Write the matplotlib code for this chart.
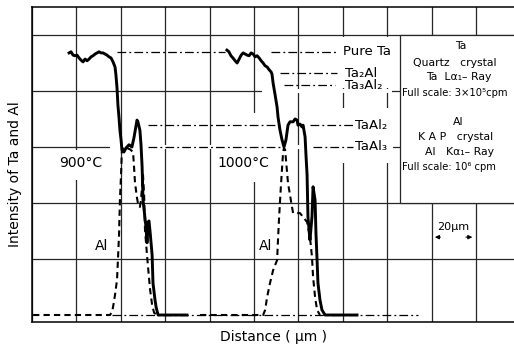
import matplotlib
matplotlib.use("Agg")
import matplotlib.pyplot as plt
from matplotlib.patches import Rectangle

# line scans: x in um from the left frame, y in chart divisions
ta900_x = [16.7, 17.6, 18.5, 19.4, 20.3, 21.2, 22.1, 23.0, 23.9, 24.8, 25.7, 26.6, 27.5, 28.4,
           29.3, 30.2, 31.1, 32.0, 32.9, 33.8, 34.7, 35.6, 36.5, 36.9, 37.4, 37.8, 38.3, 38.7,
           39.2, 39.6, 40.1, 40.5, 41.4, 42.3, 43.7, 45.0, 45.9, 46.9, 47.3, 47.7, 48.6, 49.1,
           49.6, 50.0, 50.9, 51.4, 51.8, 52.3, 52.7, 53.2, 54.1, 54.5, 55.4, 55.9, 56.8, 69.8]
ta900_y = [4.68, 4.70, 4.64, 4.63, 4.64, 4.59, 4.55, 4.52, 4.57, 4.54, 4.57, 4.61, 4.63, 4.66,
           4.68, 4.70, 4.68, 4.68, 4.66, 4.64, 4.61, 4.59, 4.52, 4.48, 4.43, 4.29, 4.05, 3.75,
           3.52, 3.30, 3.13, 2.95, 2.91, 2.98, 3.04, 3.00, 3.16, 3.39, 3.48, 3.45, 3.30, 3.04,
           2.64, 2.05, 1.73, 1.55, 1.29, 1.66, 1.68, 1.48, 1.07, 0.57, 0.27, 0.14, 0.0, 0.0]

al900_x = [0.5, 35.1, 36.0, 36.5, 37.4, 38.3, 38.7, 39.2, 39.6, 40.1, 40.5, 41.4, 42.8, 44.1,
           45.5, 45.9, 46.4, 47.3, 47.7, 48.6, 49.1, 49.6, 50.0, 50.5, 50.9, 51.8, 52.3, 53.2,
           54.1, 55.0, 56.3]
al900_y = [0.0, 0.0, 0.05, 0.14, 0.36, 0.63, 0.98, 1.43, 2.05, 2.50, 2.95, 3.00, 2.98, 2.96,
           2.91, 2.68, 2.36, 2.09, 2.00, 1.93, 2.05, 2.32, 2.50, 2.14, 1.52, 1.07, 0.84, 0.45,
           0.18, 0.04, 0.0]

ta1000_x = [87.8, 88.7, 89.6, 90.5, 91.5, 92.4, 93.3, 94.2, 95.1, 96.0, 96.9, 97.8, 98.7, 99.6,
            100.5, 101.4, 102.3, 103.2, 104.1, 105.0, 105.9, 106.8, 107.7, 108.1, 108.6, 109.5,
            110.4, 110.8, 111.7, 112.6, 113.5, 114.4, 115.3, 116.2, 117.6, 118.5, 119.4, 119.8,
            120.7, 121.6, 122.1, 123.0, 123.4, 123.9, 124.3, 124.8, 125.2, 126.1, 126.6, 127.5,
            127.9, 128.4, 128.8, 129.7, 130.6, 132.0, 146.4]
ta1000_y = [4.73, 4.70, 4.63, 4.59, 4.54, 4.50, 4.57, 4.64, 4.68, 4.66, 4.64, 4.63, 4.68, 4.66,
            4.61, 4.63, 4.59, 4.54, 4.50, 4.45, 4.43, 4.38, 4.34, 4.30, 4.14, 3.93,
            3.71, 3.54, 3.30, 3.13, 3.00, 3.13, 3.39, 3.45, 3.45, 3.50, 3.48, 3.39,
            3.41, 3.36, 3.39, 3.18, 2.86, 2.50, 1.75, 1.52, 1.34, 1.75, 2.29, 2.05,
            1.46, 0.98, 0.57, 0.27, 0.09, 0.0, 0.0]

al1000_x = [75.7, 104.1, 105.0, 105.9, 107.2, 108.6, 110.4, 110.8, 111.3, 112.2, 113.1, 113.5,
            114.0, 115.3, 117.1, 117.6, 120.7, 122.1, 123.9, 124.3, 125.2, 126.1, 126.6, 127.5,
            128.4, 129.7]
al1000_y = [0.0, 0.0, 0.09, 0.32, 0.57, 0.80, 0.98, 1.34, 1.75, 2.36, 2.91, 2.98,
            2.95, 2.36, 1.93, 1.82, 1.82, 1.75, 1.66, 1.57, 1.39, 1.04, 0.68, 0.32,
            0.09, 0.0]

# phase reference levels and where their dash-dot lines run
level_names = ["Pure Ta", "Ta₂Al", "Ta₃Al₂", "TaAl₂", "TaAl₃"]
level_y = [4.70, 4.32, 4.10, 3.39, 3.00]
level_spans = [[(38.3, 87.0), (107.7, 137.9)],
               [(111.7, 137.4)],
               [(113.5, 136.5)],
               [(52.3, 111.7), (125.2, 144.6)],
               [(52.3, 112.6), (126.6, 144.6)]]
baseline_span = (36.0, 173.9)

fig = plt.figure(figsize=(5.14, 3.46), dpi=100)
ax = fig.add_axes([32 / 514, 24 / 346, 482 / 514, 315 / 346])
ax.set_xlim(0, 217.1)
ax.set_ylim(-0.125, 5.5)
ax.set_xticks(range(0, 220, 20))
ax.set_yticks([1, 2, 3, 4, 5])
ax.tick_params(length=0, labelbottom=False, labelleft=False)
ax.set_axisbelow(True)
ax.grid(True, color="#262626", lw=0.9)
for s in ("left", "top", "bottom"):
    ax.spines[s].set_linewidth(1.1)
ax.spines["right"].set_visible(False)

# erased bits of the grid paper (label areas) and the legend box
for (x0, x1, y0, y1) in [(136.5, 161.7, 4.05, 4.96), (136.5, 161.7, 2.71, 3.70),
                         (103.6, 162.2, 3.96, 4.04), (35.1, 162.6, 2.96, 3.04),
                         (10.4, 34.2, 2.41, 2.95), (82.4, 108.1, 2.38, 2.95),
                         (97.8, 101.4, 2.95, 3.61)]:
    ax.add_patch(Rectangle((x0, y0), x1 - x0, y1 - y0, fc="white", ec="none", zorder=1))
ax.add_patch(Rectangle((165.8, 2.0), 60, 3.0, fc="white", ec="#262626", lw=0.9, zorder=1))

dashdot = (0, (7, 2.5, 1.5, 2.5))
ax.plot(baseline_span, [0, 0], color="black", lw=0.9, ls=dashdot, zorder=2)
for yv, spans in zip(level_y, level_spans):
    for a, b in spans:
        ax.plot([a, b], [yv, yv], color="black", lw=0.9, ls=dashdot, zorder=2)

ax.plot(al900_x, al900_y, color="black", lw=1.5, ls=(0, (3, 2)), zorder=3)
ax.plot(al1000_x, al1000_y, color="black", lw=1.5, ls=(0, (3, 2)), zorder=3)
ax.plot(ta900_x, ta900_y, color="black", lw=2.1, solid_joinstyle="round", zorder=4)
ax.plot(ta1000_x, ta1000_y, color="black", lw=2.1, solid_joinstyle="round", zorder=4)

fs = 9.5
for name, x, yv in zip(level_names, [140.1, 141.0, 141.0, 145.5, 145.5], level_y):
    ax.text(x, yv, name, fontsize=fs, ha="left", va="center", zorder=5)

ax.text(22.1, 2.72, "900°C", fontsize=10, ha="center", va="center", zorder=5)
ax.text(95.1, 2.72, "1000°C", fontsize=10, ha="center", va="center", zorder=5)
ax.text(31.5, 1.23, "Al", fontsize=10, ha="center", va="center", zorder=5)
ax.text(105.0, 1.23, "Al", fontsize=10, ha="center", va="center", zorder=5)

box = [("Ta", 193.0, 4.80, "center", 7.8),
       ("Quartz   crystal", 190.6, 4.50, "center", 7.8),
       ("Ta  Lα₁– Ray", 192.0, 4.25, "center", 7.8),
       ("Full scale: 3×10⁵cpm", 166.8, 3.96, "left", 7.2),
       ("Al", 192.0, 3.44, "center", 7.8),
       ("K A P   crystal", 190.6, 3.18, "center", 7.8),
       ("Al   Kα₁– Ray", 192.5, 2.91, "center", 7.8),
       ("Full scale: 10⁶ cpm", 166.8, 2.64, "left", 7.2)]
for t, x, yv, ha, f in box:
    ax.text(x, yv, t, fontsize=f, ha=ha, va="center", zorder=5)

ax.text(189.7, 1.57, "20µm", fontsize=8, ha="center", va="center", zorder=5)
ax.annotate("", xy=(180.2, 1.39), xytext=(185.2, 1.39),
            arrowprops=dict(arrowstyle="-|>", lw=0.8, color="black", mutation_scale=6))
ax.annotate("", xy=(199.6, 1.39), xytext=(194.2, 1.39),
            arrowprops=dict(arrowstyle="-|>", lw=0.8, color="black", mutation_scale=6))

ax.set_xlabel("Distance ( µm )", fontsize=10, labelpad=6)
ax.set_ylabel("Intensity of Ta and Al", fontsize=10)
ax.yaxis.set_label_coords(-0.02, 0.47)

fig.savefig("out.png", dpi=100)
